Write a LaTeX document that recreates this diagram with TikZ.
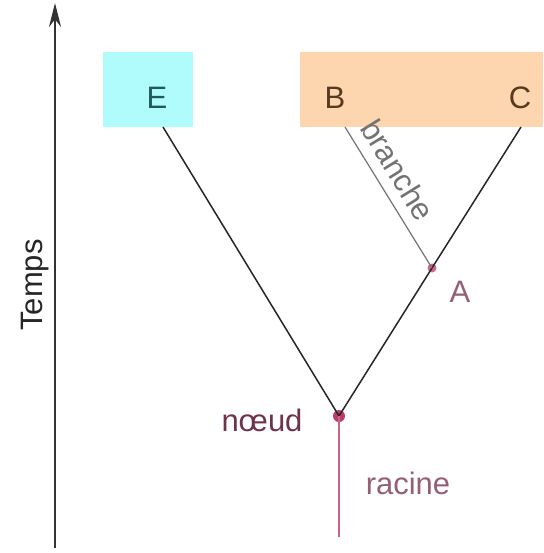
\documentclass[tikz,border=0pt]{standalone}
\usepackage{fontspec}
\setmainfont{Liberation Sans}
\usetikzlibrary{arrows.meta, positioning}
\definecolor{boxcyan}{RGB}{176,252,252}
\definecolor{boxorange}{RGB}{253,213,174}
\definecolor{tealtext}{RGB}{30,90,90}
\definecolor{browntext}{RGB}{85,58,32}
\definecolor{mauve}{RGB}{150,95,120}
\definecolor{darkmauve}{RGB}{110,50,75}
\definecolor{dotpink}{RGB}{205,105,135}
\definecolor{dotred}{RGB}{190,60,100}
\definecolor{rootpink}{RGB}{200,100,135}

\begin{document}
\begin{tikzpicture}[
  x=0.5pt, y=-0.5pt,
  lbl/.style={font=\fontsize{15.5}{18}\selectfont, inner sep=0pt},
  leafbox/.style={inner sep=0pt, anchor=north west, minimum height=37.5pt},
  dot/.style={circle, inner sep=0pt},
  edge/.style={line width=0.75pt, black!85},
]
  \useasboundingbox (0,0) rectangle (543,553);

  % axe du temps
  \coordinate (axisbot) at (55,548);
  \coordinate (axistop) at (55,3);
  \draw[line width=1.2pt, black!80, -{Stealth[length=12pt, width=6pt]}] (axisbot) -- (axistop);
  \node[lbl, rotate=90, black!85] (temps) at (35,285) {Temps};

  % feuilles
  \node[leafbox, fill=boxcyan, minimum width=45pt] (boxE) at (103,52) {};
  \node[leafbox, fill=boxorange, minimum width=121.5pt] (boxBC) at (300,52) {};
  \node[lbl, tealtext] (E) at (157,98) {E};
  \node[lbl, browntext] (B) at (335,98) {B};
  \node[lbl, browntext] (C) at (520,98) {C};
  \coordinate (tipE) at (163,127);
  \coordinate (tipB) at (345,127);
  \coordinate (tipC) at (521,127);

  % noeuds internes
  \node[dot, fill=dotred, minimum size=6pt] (noeud) at (339,416) {};
  \node[dot, fill=dotpink, minimum size=4.5pt] (A) at (432,268) {};
  \coordinate (base) at (339,537);

  % branches
  \draw[edge] (tipE) -- (noeud.center);
  \draw[edge] (tipC) -- (A.center) -- (noeud.center);
  \draw[line width=0.6pt, black!55] (tipB) -- (A.center);
  \draw[line width=0.9pt, rootpink] (noeud.center) -- (base);

  % etiquettes
  \node[lbl, black!55, rotate=-58.3] (branche) at (398,170) {branche};
  \node[lbl, mauve] (labA) at (460,292) {A};
  \node[lbl, darkmauve] (labnoeud) at (262,420) {nœud};
  \node[lbl, mauve] (racine) at (408,483) {racine};
\end{tikzpicture}
\end{document}
